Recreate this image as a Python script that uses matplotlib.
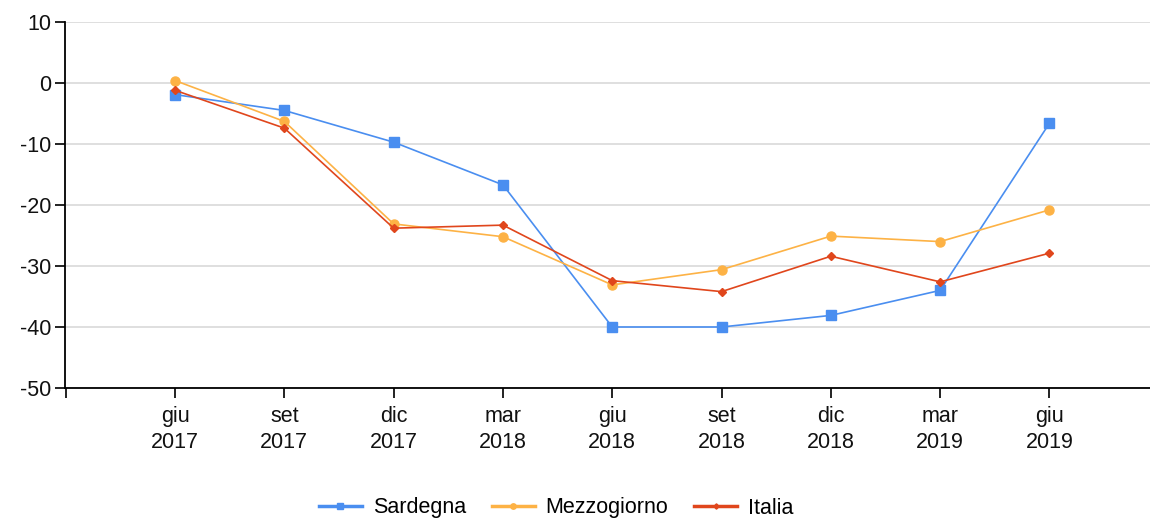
import matplotlib
matplotlib.use("Agg")
import matplotlib.pyplot as plt

categories = ["giu\n2017", "set\n2017", "dic\n2017", "mar\n2018", "giu\n2018",
              "set\n2018", "dic\n2018", "mar\n2019", "giu\n2019"]
sardegna = [-1.9, -4.5, -9.7, -16.7, -40.0, -40.0, -38.1, -34.0, -6.6]
mezzogiorno = [0.4, -6.3, -23.1, -25.2, -33.1, -30.6, -25.1, -26.0, -20.8]
italia = [-1.2, -7.4, -23.8, -23.3, -32.4, -34.2, -28.4, -32.6, -27.9]
y_ticks = [10, 0, -10, -20, -30, -40, -50]

plt.rcParams['font.family'] = ['Liberation Sans', 'DejaVu Sans']
plt.rcParams['axes.unicode_minus'] = False

fig = plt.figure(figsize=(11.5, 5.19), dpi=100)
ax = fig.add_axes([65/1150, 1 - 388/519, 1 - 65/1150, (388 - 22)/519])

x = list(range(len(categories)))
ax.plot(x, sardegna, color="#4a8ef0", lw=1.2, marker="s", ms=6.5, label="Sardegna", zorder=3)
ax.plot(x, mezzogiorno, color="#fdb245", lw=1.2, marker="o", ms=6.5, label="Mezzogiorno", zorder=3)
ax.plot(x, italia, color="#e0461c", lw=1.2, marker="D", ms=4.5, label="Italia", zorder=4)

ax.set_ylim(-50, 10)
ax.set_yticks(y_ticks)
ax.set_xlim(-1.007, 8.92)
ax.set_xticks([-1] + x)
ax.set_xticklabels([""] + categories)

ax.grid(axis="y", color="#dcdcdc", lw=1.3)
ax.set_axisbelow(True)
for s in ["top", "right"]:
    ax.spines[s].set_visible(False)
ax.spines["left"].set_linewidth(1.3)
ax.spines["bottom"].set_linewidth(1.3)
ax.tick_params(axis="both", length=7, width=1.3, labelsize=15.5, colors="#111111")
ax.tick_params(axis="x", pad=6)
ax.tick_params(axis="y", pad=3)
for lbl in ax.get_xticklabels():
    lbl.set_linespacing(1.3)

handles, labels = ax.get_legend_handles_labels()
leg = fig.legend(handles, labels, loc="center", bbox_to_anchor=(556/1150, 1 - 508/519),
                 ncol=3, frameon=False, fontsize=15.5, handlelength=2.0, columnspacing=1.2,
                 handletextpad=0.5, markerscale=0.6)
for h in leg.legend_handles:
    h.set_linewidth(2.5)

fig.savefig("out.png", dpi=100)
